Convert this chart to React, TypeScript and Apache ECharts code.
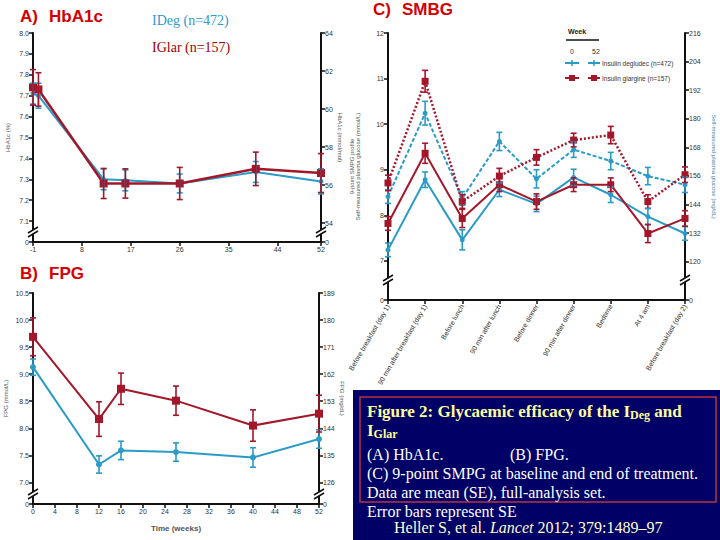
import React, { useEffect, useRef } from "react";
import * as echarts from "echarts";

// ---------- Panel A: HbA1c ----------
const hba1cWeeks = [-1, 0, 12, 16, 26, 40, 52];
const hba1cIDeg = [7.71, 7.7, 7.3, 7.295, 7.28, 7.335, 7.29];
const hba1cIDegSE = [0.05, 0.06, 0.05, 0.05, 0.045, 0.05, 0.06];
const hba1cIGlar = [7.74, 7.73, 7.28, 7.28, 7.28, 7.35, 7.33];
const hba1cIGlarSE = [0.085, 0.08, 0.072, 0.07, 0.077, 0.08, 0.093];
const hba1cXTickStep = 9; // ticks -1, 8, 17, 26, 35, 44, 52
const hba1cLeftTicks = [7.0, 7.1, 7.2, 7.3, 7.4, 7.5, 7.6, 7.7, 7.8, 7.9, 8.0];
const hba1cRightTicks = [53, 54, 56, 58, 60, 62, 64];

// ---------- Panel B: FPG ----------
const fpgWeeks = [0, 12, 16, 26, 40, 52];
const fpgIDeg = [9.13, 7.33, 7.59, 7.56, 7.46, 7.8];
const fpgIDegSE = [0.15, 0.16, 0.17, 0.17, 0.18, 0.17];
const fpgIGlar = [9.69, 8.17, 8.73, 8.51, 8.05, 8.27];
const fpgIGlarSE = [0.35, 0.32, 0.29, 0.27, 0.29, 0.34];
const fpgLeftTicks = [6.6, 7.0, 7.5, 8.0, 8.5, 9.0, 9.5, 10.0, 10.5];
const fpgRightTicks = [118.8, 126, 135, 144, 153, 162, 171, 180, 189];

// ---------- Panel C: SMBG ----------
const smbgTimes = [
  "Before breakfast (day 1)",
  "90 min after breakfast (day 1)",
  "Before lunch",
  "90 min after lunch",
  "Before dinner",
  "90 min after dinner",
  "Bedtime",
  "At 4 am",
  "Before breakfast (day 2)",
];
const smbgIDegWk0 = [8.41, 10.24, 8.37, 9.62, 8.8, 9.44, 9.19, 8.86, 8.67];
const smbgIDegWk0SE = [0.15, 0.26, 0.15, 0.2, 0.2, 0.17, 0.19, 0.19, 0.17];
const smbgIGlarWk0 = [8.71, 10.94, 8.3, 8.86, 9.27, 9.65, 9.76, 8.3, 8.89];
const smbgIGlarWk0SE = [0.17, 0.24, 0.15, 0.17, 0.17, 0.15, 0.19, 0.15, 0.17];
const smbgIDegWk52 = [7.24, 8.78, 7.46, 8.56, 8.25, 8.83, 8.45, 7.97, 7.6];
const smbgIDegWk52SE = [0.15, 0.17, 0.22, 0.15, 0.17, 0.18, 0.17, 0.18, 0.15];
const smbgIGlarWk52 = [7.82, 9.36, 7.93, 8.67, 8.3, 8.67, 8.67, 7.6, 7.93];
const smbgIGlarWk52SE = [0.15, 0.22, 0.2, 0.15, 0.17, 0.15, 0.15, 0.2, 0.17];
const smbgLeftTicks = [6.14, 7, 8, 9, 10, 11, 12];
const smbgRightTicks = [103.9, 120, 132, 144, 156, 168, 180, 192, 204, 216];

const BLUE = "#2a9bc7";
const RED = "#a3172b";
const SANS = "'Liberation Sans', Arial, sans-serif";
const SERIF = "'Liberation Serif', 'Times New Roman', serif";

function measure(text: string, font: string): number {
  const c = document.createElement("canvas").getContext("2d");
  if (!c) return text.length * 7;
  c.font = font;
  return c.measureText(text).width;
}

function fmtBreak(ticks: number[], digits: number) {
  const min = ticks[0];
  return (v: number) => (Math.abs(v - min) < 1e-6 ? "0" : v.toFixed(digits));
}

const axisCommon = {
  axisLine: { show: true, onZero: false, lineStyle: { color: "#111", width: 2 } },
  splitLine: { show: false },
};

function valueAxis(extra: any, ticks: number[] | null, digits: number) {
  const labelBase: any = { fontSize: 7, color: "#333", fontFamily: SANS, margin: 4, hideOverlap: false };
  const tickBase: any = { show: true, length: 4, lineStyle: { color: "#111", width: 1.5 } };
  if (ticks) {
    labelBase.customValues = ticks;
    labelBase.formatter = fmtBreak(ticks, digits);
    tickBase.customValues = ticks;
  }
  return {
    type: "value",
    ...axisCommon,
    axisTick: tickBase,
    axisLabel: labelBase,
    nameTextStyle: { fontSize: 6, color: "#555", fontFamily: SANS },
    ...extra,
  };
}

function errSeries(xi: number, yi: number, xs: number[], ys: number[], se: number[], color: string) {
  return {
    type: "custom",
    xAxisIndex: xi,
    yAxisIndex: yi,
    silent: true,
    clip: false,
    z: 4,
    encode: { x: 0, y: 1 },
    data: xs.map((x, i) => [x, ys[i], se[i]]),
    renderItem: (_p: any, api: any) => {
      const x = api.value(0);
      const y = api.value(1);
      const e = api.value(2);
      const a = api.coord([x, y + e]);
      const b = api.coord([x, y - e]);
      const w = 3;
      const st = { stroke: color, lineWidth: 1.6 };
      return {
        type: "group",
        children: [
          { type: "line", shape: { x1: a[0], y1: a[1], x2: b[0], y2: b[1] }, style: st },
          { type: "line", shape: { x1: a[0] - w, y1: a[1], x2: a[0] + w, y2: a[1] }, style: st },
          { type: "line", shape: { x1: b[0] - w, y1: b[1], x2: b[0] + w, y2: b[1] }, style: st },
        ],
      };
    },
  };
}

function lineSeries(xi: number, yi: number, xs: any[], ys: number[], color: string, symbol: string, size: number, type: any, width: number) {
  return {
    type: "line",
    xAxisIndex: xi,
    yAxisIndex: yi,
    data: xs.map((x, i) => [x, ys[i]]),
    symbol,
    symbolSize: size,
    showSymbol: true,
    itemStyle: { color, borderWidth: 0 },
    lineStyle: { color, width, type },
    z: 3,
  };
}

function breakMark(x: number, y: number): any[] {
  return [
    {
      type: "polygon",
      z: 100,
      shape: { points: [[x - 5, y], [x + 5, y - 6], [x + 5, y - 2], [x - 5, y + 4]] },
      style: { fill: "#fff", stroke: null },
    },
    { type: "line", z: 101, shape: { x1: x - 5, y1: y + 4, x2: x + 5, y2: y - 2 }, style: { stroke: "#111", lineWidth: 1.5 } },
    { type: "line", z: 101, shape: { x1: x - 5, y1: y, x2: x + 5, y2: y - 6 }, style: { stroke: "#111", lineWidth: 1.5 } },
  ];
}

function txt(x: number, y: number, text: string, o: any = {}): any {
  return {
    type: "text",
    x,
    y,
    z: 110,
    style: {
      text,
      fill: o.fill || "#000",
      fontSize: o.size || 12,
      fontFamily: o.family || SANS,
      fontWeight: o.weight || "normal",
      fontStyle: o.style || "normal",
      align: o.align || "left",
      verticalAlign: o.valign || "middle",
    },
  };
}

function buildOption() {
  const TS = 17;
  const SS = 12;
  const BS = 16;
  const titleFont = `bold ${TS}px ${SERIF}`;
  const t1 = "Figure 2: Glycaemic efficacy of the I";
  const w1 = measure(t1, titleFont);
  const wDeg = measure("Deg", `bold ${SS}px ${SERIF}`);
  const wI = measure("I", titleFont);
  const citeFont = `${BS}px ${SERIF}`;
  const c1 = "Heller S, et al. ";
  const wc1 = measure(c1, citeFont);
  const wc2 = measure("Lancet", `italic ${BS}px ${SERIF}`);

  const bx = 367;
  const yellow = "#ffff99";
  const graphic: any[] = [
    // panel titles
    txt(20, 16, "A)", { fill: "#d40000", size: 17, weight: "bold" }),
    txt(49, 16, "HbA1c", { fill: "#d40000", size: 17, weight: "bold" }),
    txt(20, 273, "B)", { fill: "#d40000", size: 17, weight: "bold" }),
    txt(49, 273, "FPG", { fill: "#d40000", size: 17, weight: "bold" }),
    txt(373, 9, "C)", { fill: "#d40000", size: 17, weight: "bold" }),
    txt(402, 9, "SMBG", { fill: "#d40000", size: 17, weight: "bold" }),
    txt(152, 20, "IDeg (n=472)", { fill: "#3399cc", size: 14, family: SERIF }),
    txt(152, 47, "IGlar (n=157)", { fill: "#a00000", size: 14, family: SERIF }),
    // legend panel C
    txt(568, 31, "Week", { fill: "#222", size: 7, weight: "bold" }),
    { type: "line", z: 100, shape: { x1: 566, y1: 40, x2: 599, y2: 40 }, style: { stroke: "#111", lineWidth: 1.5 } },
    txt(572, 51, "0", { fill: "#333", size: 7, align: "center" }),
    txt(596, 51, "52", { fill: "#333", size: 7, align: "center" }),
    { type: "line", z: 100, shape: { x1: 565, y1: 63, x2: 579, y2: 63 }, style: { stroke: BLUE, lineWidth: 2 } },
    { type: "line", z: 100, shape: { x1: 572, y1: 60, x2: 572, y2: 66 }, style: { stroke: BLUE, lineWidth: 1.5 } },
    { type: "line", z: 100, shape: { x1: 588, y1: 63, x2: 600, y2: 63 }, style: { stroke: BLUE, lineWidth: 2 } },
    { type: "line", z: 100, shape: { x1: 594, y1: 60, x2: 594, y2: 66 }, style: { stroke: BLUE, lineWidth: 1.5 } },
    txt(602, 63, "Insulin degludec (n=472)", { fill: "#333", size: 6.5 }),
    { type: "line", z: 100, shape: { x1: 565, y1: 78, x2: 579, y2: 78 }, style: { stroke: RED, lineWidth: 2 } },
    { type: "rect", z: 100, shape: { x: 569, y: 75, width: 6, height: 6 }, style: { fill: RED } },
    { type: "line", z: 100, shape: { x1: 588, y1: 78, x2: 600, y2: 78 }, style: { stroke: RED, lineWidth: 2 } },
    { type: "rect", z: 100, shape: { x: 591, y: 75, width: 6, height: 6 }, style: { fill: RED } },
    txt(602, 78, "Insulin glargine (n=157)", { fill: "#333", size: 6.5 }),
    // breaks
    ...breakMark(33, 233),
    ...breakMark(321, 233),
    ...breakMark(33, 495),
    ...breakMark(319, 495),
    ...breakMark(388, 281),
    ...breakMark(685, 281),
    // caption box
    { type: "rect", z: 90, shape: { x: 353, y: 390, width: 367, height: 150 }, style: { fill: "#000066" } },
    { type: "rect", z: 91, shape: { x: 360, y: 397, width: 356, height: 105 }, style: { fill: "none", stroke: "#b8343f", lineWidth: 1.5 } },
    txt(bx, 411, t1, { fill: yellow, size: TS, weight: "bold", family: SERIF }),
    txt(bx + w1, 415, "Deg", { fill: yellow, size: SS, weight: "bold", family: SERIF }),
    txt(bx + w1 + wDeg, 411, " and", { fill: yellow, size: TS, weight: "bold", family: SERIF }),
    txt(bx, 430, "I", { fill: yellow, size: TS, weight: "bold", family: SERIF }),
    txt(bx + wI, 434, "Glar", { fill: yellow, size: SS, weight: "bold", family: SERIF }),
    txt(bx, 454, "(A) HbA1c.", { fill: "#fff", size: BS, family: SERIF }),
    txt(510, 454, "(B) FPG.", { fill: "#fff", size: BS, family: SERIF }),
    txt(bx, 473, "(C) 9-point SMPG at baseline and end of treatment.", { fill: "#fff", size: BS, family: SERIF }),
    txt(bx, 492, "Data are mean (SE), full-analysis set.", { fill: "#fff", size: BS, family: SERIF }),
    txt(bx, 511, "Error bars represent SE", { fill: "#fff", size: BS, family: SERIF }),
    txt(394, 527, c1, { fill: "#ffffcc", size: BS, family: SERIF }),
    txt(394 + wc1, 527, "Lancet", { fill: "#ffffcc", size: BS, family: SERIF, style: "italic" }),
    txt(394 + wc1 + wc2, 527, " 2012; 379:1489\u201397", { fill: "#ffffcc", size: BS, family: SERIF }),
  ];

  const catIdx = smbgTimes.map((_, i) => i);

  return {
    animation: false,
    backgroundColor: "#fff",
    grid: [
      { left: 33, top: 33, width: 288, height: 209, containLabel: false, outerBoundsMode: "none" },
      { left: 33, top: 293, width: 286, height: 211, containLabel: false, outerBoundsMode: "none" },
      { left: 388, top: 33, width: 297, height: 267, containLabel: false, outerBoundsMode: "none" },
    ],
    xAxis: [
      {
        type: "value",
        gridIndex: 0,
        min: -1,
        max: 52,
        interval: hba1cXTickStep,
        ...axisCommon,
        axisTick: { show: true, length: 4, lineStyle: { color: "#111", width: 1.5 } },
        axisLabel: {
          fontSize: 7,
          color: "#333",
          fontFamily: SANS,
          margin: 4,
          hideOverlap: false,
          showMinLabel: true,
          showMaxLabel: true,
        },
      },
      {
        type: "value",
        gridIndex: 1,
        min: 0,
        max: 52,
        interval: 4,
        ...axisCommon,
        axisTick: { show: true, length: 4, lineStyle: { color: "#111", width: 1.5 } },
        axisLabel: { fontSize: 7, color: "#333", fontFamily: SANS, margin: 4 },
        name: "Time (weeks)",
        nameLocation: "middle",
        nameGap: 20,
        nameTextStyle: { fontSize: 8, color: "#555", fontFamily: SANS, fontWeight: "bold" },
      },
      {
        type: "category",
        gridIndex: 2,
        data: smbgTimes,
        boundaryGap: false,
        ...axisCommon,
        axisTick: { show: true, length: 4, alignWithLabel: true, interval: 0, lineStyle: { color: "#111", width: 1.5 } },
        axisLabel: { interval: 0, rotate: 60, fontSize: 7, color: "#333", fontFamily: SANS, margin: 5 },
      },
    ],
    yAxis: [
      valueAxis(
        { gridIndex: 0, min: 7.0, max: 8.0, name: "HbA1c (%)", nameLocation: "middle", nameGap: 22 },
        hba1cLeftTicks,
        1
      ),
      valueAxis(
        {
          gridIndex: 0,
          position: "right",
          min: 53,
          max: 64,
          name: "HbA1c (mmol/mol)",
          nameLocation: "middle",
          nameGap: 13,
          nameRotate: -90,
        },
        hba1cRightTicks,
        0
      ),
      valueAxis(
        { gridIndex: 1, min: 6.6, max: 10.5, name: "FPG (mmol/L)", nameLocation: "middle", nameGap: 24 },
        fpgLeftTicks,
        1
      ),
      valueAxis(
        {
          gridIndex: 1,
          position: "right",
          min: 118.8,
          max: 189,
          name: "FPG (mg/dL)",
          nameLocation: "middle",
          nameGap: 14,
          nameRotate: -90,
        },
        fpgRightTicks,
        0
      ),
      valueAxis(
        {
          gridIndex: 2,
          min: 6.14,
          max: 12,
          name: "9-point SMPG profile\nSelf-measured plasma glucose (mmol/L)",
          nameLocation: "middle",
          nameGap: 27,
        },
        smbgLeftTicks,
        0
      ),
      valueAxis(
        {
          gridIndex: 2,
          position: "right",
          min: 103.9,
          max: 216,
          name: "Self-measured plasma glucose (mg/dL)",
          nameLocation: "middle",
          nameGap: 26,
          nameRotate: -90,
          nameTextStyle: { fontSize: 6, color: "#4a86a8", fontFamily: SANS },
        },
        smbgRightTicks,
        0
      ),
    ],
    series: [
      // A
      lineSeries(0, 0, hba1cWeeks, hba1cIDeg, BLUE, "circle", 5, "solid", 2),
      lineSeries(0, 0, hba1cWeeks, hba1cIGlar, RED, "rect", 8, "solid", 2.5),
      errSeries(0, 0, hba1cWeeks, hba1cIDeg, hba1cIDegSE, BLUE),
      errSeries(0, 0, hba1cWeeks, hba1cIGlar, hba1cIGlarSE, RED),
      // B
      lineSeries(1, 2, fpgWeeks, fpgIDeg, BLUE, "circle", 6, "solid", 2),
      lineSeries(1, 2, fpgWeeks, fpgIGlar, RED, "rect", 8, "solid", 2),
      errSeries(1, 2, fpgWeeks, fpgIDeg, fpgIDegSE, BLUE),
      errSeries(1, 2, fpgWeeks, fpgIGlar, fpgIGlarSE, RED),
      // C
      lineSeries(2, 4, catIdx, smbgIDegWk0, BLUE, "circle", 5, [4, 2], 2),
      lineSeries(2, 4, catIdx, smbgIGlarWk0, RED, "rect", 7, [2, 2], 2.5),
      lineSeries(2, 4, catIdx, smbgIDegWk52, BLUE, "circle", 5, "solid", 2),
      lineSeries(2, 4, catIdx, smbgIGlarWk52, RED, "rect", 7, "solid", 2),
      errSeries(2, 4, catIdx, smbgIDegWk0, smbgIDegWk0SE, BLUE),
      errSeries(2, 4, catIdx, smbgIGlarWk0, smbgIGlarWk0SE, RED),
      errSeries(2, 4, catIdx, smbgIDegWk52, smbgIDegWk52SE, BLUE),
      errSeries(2, 4, catIdx, smbgIGlarWk52, smbgIGlarWk52SE, RED),
    ],
    graphic,
  };
}

export default function App() {
  const ref = useRef<HTMLDivElement>(null);
  useEffect(() => {
    if (!ref.current) return;
    const chart = echarts.init(ref.current, null, { renderer: "svg" });
    chart.setOption(buildOption() as any);
    return () => chart.dispose();
  }, []);
  return (
    <div
      ref={ref}
      style={{ position: "fixed", left: 0, top: 0, width: 720, height: 540, background: "#fff" }}
    />
  );
}
